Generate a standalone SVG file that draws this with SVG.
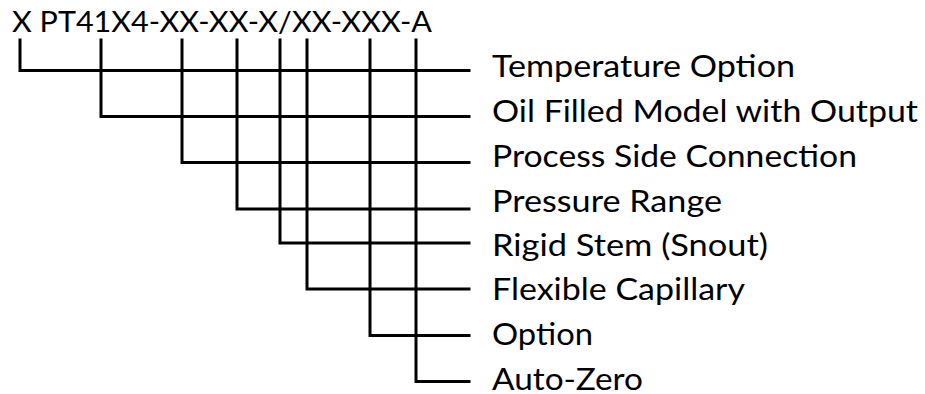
<svg xmlns="http://www.w3.org/2000/svg" width="925" height="394" viewBox="0 0 925 394">
<style>
.t{font-family:Lato,"Open Sans","Liberation Sans",sans-serif;fill:#000;}
.lbl{font-size:31px;}
.code{font-size:29px;}
.c{fill:none;stroke:#000;stroke-width:3;stroke-linecap:square;}
</style>
<rect width="925" height="394" fill="#fff"/>
<g id="code"><text class="t code" x="12" y="32" textLength="420" lengthAdjust="spacingAndGlyphs">X PT41X4-XX-XX-X/XX-XXX-A</text></g>
<g id="connectors">
<path class="c" d="M20,40V70.5H469"/>
<path class="c" d="M101,40V116.5H469"/>
<path class="c" d="M182,40V162.5H469"/>
<path class="c" d="M237,40V209H469"/>
<path class="c" d="M280,40V243H469"/>
<path class="c" d="M307,40V289H469"/>
<path class="c" d="M370,40V335.5H469"/>
<path class="c" d="M416,40V381.5H469"/>
</g>
<g id="n1"><text class="t lbl" x="492" y="77" textLength="303" lengthAdjust="spacingAndGlyphs">Temperature Option</text></g>
<g id="n2"><text class="t lbl" x="492" y="122" textLength="426" lengthAdjust="spacingAndGlyphs">Oil Filled Model with Output</text></g>
<g id="n3"><text class="t lbl" x="492" y="167" textLength="365" lengthAdjust="spacingAndGlyphs">Process Side Connection</text></g>
<g id="n4"><text class="t lbl" x="492" y="212" textLength="230" lengthAdjust="spacingAndGlyphs">Pressure Range</text></g>
<g id="n5"><text class="t lbl" x="492" y="256" textLength="276" lengthAdjust="spacingAndGlyphs">Rigid Stem (Snout)</text></g>
<g id="n6"><text class="t lbl" x="492" y="300" textLength="253" lengthAdjust="spacingAndGlyphs">Flexible Capillary</text></g>
<g id="n7"><text class="t lbl" x="492" y="345" textLength="101" lengthAdjust="spacingAndGlyphs">Option</text></g>
<g id="n8"><text class="t lbl" x="492" y="390" textLength="151" lengthAdjust="spacingAndGlyphs">Auto-Zero</text></g>
</svg>
